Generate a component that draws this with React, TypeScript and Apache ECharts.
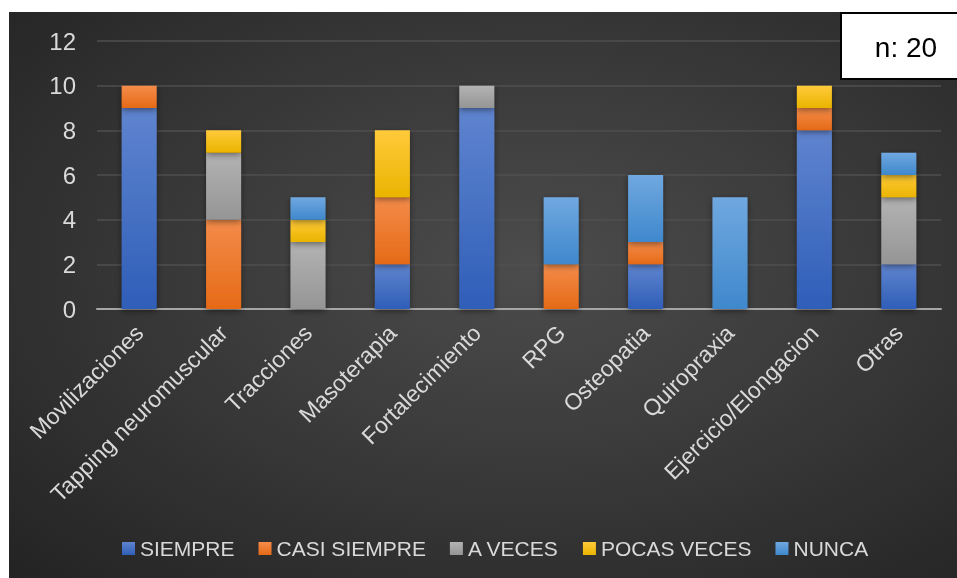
import React, { useEffect, useRef } from "react";
import * as echarts from "echarts";

const categories = [
  "Movilizaciones",
  "Tapping neuromuscular",
  "Tracciones",
  "Masoterapia",
  "Fortalecimiento",
  "RPG",
  "Osteopatia",
  "Quiropraxia",
  "Ejercicio/Elongacion",
  "Otras",
];
const seriesNames = ["SIEMPRE", "CASI SIEMPRE", "A VECES", "POCAS VECES", "NUNCA"];
const siempre = [9, 0, 0, 2, 9, 0, 2, 0, 8, 2];
const casiSiempre = [1, 4, 0, 3, 0, 2, 1, 0, 1, 0];
const aVeces = [0, 3, 3, 0, 1, 0, 0, 0, 0, 3];
const pocasVeces = [0, 1, 1, 3, 0, 0, 0, 0, 1, 1];
const nunca = [0, 0, 1, 0, 0, 3, 3, 5, 0, 1];
const yTicks = [0, 2, 4, 6, 8, 10, 12];
const noteText = "n: 20";

const colors = [
  ["#5f84cf", "#2f5eb8"],
  ["#f48c4a", "#e56a17"],
  ["#b3b3b3", "#959595"],
  ["#ffca3a", "#eab400"],
  ["#70a8e0", "#3f88cc"],
];

const FONT = "'Liberation Sans', Arial, sans-serif";

export default function App() {
  const ref = useRef<HTMLDivElement>(null);
  useEffect(() => {
    if (!ref.current) return;
    const chart = echarts.init(ref.current, null, { renderer: "svg" });
    const values = [siempre, casiSiempre, aVeces, pocasVeces, nunca];
    chart.setOption({
      animation: false,
      textStyle: { fontFamily: FONT },
      grid: { left: 88, right: 16, top: 29, bottom: 269 },
      legend: {
        bottom: 14,
        left: 108,
        itemWidth: 13,
        itemHeight: 13,
        itemGap: 24,
        icon: "rect",
        textStyle: { color: "#d9d9d9", fontSize: 21, fontFamily: FONT },
        data: seriesNames,
      },
      xAxis: {
        type: "category",
        data: categories,
        axisLine: { lineStyle: { color: "#a6a6a6", width: 2 } },
        axisTick: { show: false },
        axisLabel: {
          color: "#d9d9d9",
          fontSize: 23,
          rotate: 45,
          interval: 0,
          margin: 20,
          fontFamily: FONT,
        },
      },
      yAxis: {
        type: "value",
        min: yTicks[0],
        max: yTicks[yTicks.length - 1],
        interval: 2,
        axisLine: { show: false },
        axisTick: { show: false },
        axisLabel: { color: "#d9d9d9", fontSize: 24, margin: 21, fontFamily: FONT },
        splitLine: { lineStyle: { color: "#4f4f4f", width: 1.5 } },
      },
      series: seriesNames.map((name, i) => ({
        name,
        type: "bar",
        stack: "total",
        barWidth: 35,
        data: values[i].map((v) => (v === 0 ? null : v)),
        itemStyle: {
          color: new echarts.graphic.LinearGradient(0, 0, 0, 1, [
            { offset: 0, color: colors[i][0] },
            { offset: 1, color: colors[i][1] },
          ]),
          shadowColor: "rgba(0,0,0,0.45)",
          shadowBlur: 6,
          shadowOffsetY: 2,
        },
      })),
      graphic: [
        {
          type: "group",
          left: 831,
          top: 0,
          z: 100,
          children: [
            {
              type: "rect",
              z: 100,
              shape: { x: 1, y: 1, width: 119, height: 66 },
              style: { fill: "#ffffff", stroke: "#000000", lineWidth: 2 },
            },
            {
              type: "text",
              z: 101,
              x: 66,
              y: 35,
              style: {
                text: noteText,
                fill: "#000000",
                font: "28px " + FONT,
                align: "center",
                verticalAlign: "middle",
              },
            },
          ],
        },
      ],
    });
    return () => chart.dispose();
  }, []);
  return (
    <div
      style={{
        position: "fixed",
        left: 9,
        top: 12,
        width: 948,
        height: 566,
        background:
          "radial-gradient(ellipse at 55% 45%, #4c4c4c 0%, #3a3a3a 45%, #232323 100%)",
      }}
    >
      <div ref={ref} style={{ width: 948, height: 566 }} />
    </div>
  );
}
